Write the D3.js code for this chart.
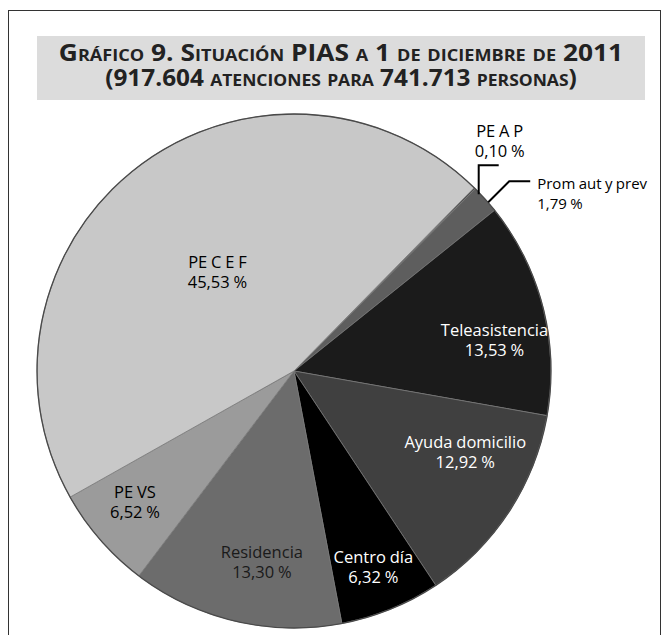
<!DOCTYPE html>
<html>
<head>
<meta charset="utf-8">
<script src="https://cdn.jsdelivr.net/npm/d3@7"></script>
<style>
  body { margin: 0; background: #fff; }
  svg { display: block; font-family: "Open Sans", "Noto Sans", sans-serif; }
  .sliceLabel { font-size: 16.5px; text-anchor: middle; word-spacing: -0.5px; }
  .title { font-weight: bold; font-size: 23px; font-variant: small-caps; text-anchor: middle; fill: #222; }
</style>
</head>
<body>
<div id="chart"></div>
<script>
// chart data
var categories = ["PE A P", "Prom aut y prev", "Teleasistencia", "Ayuda domicilio", "Centro día", "Residencia", "PE VS", "PE C E F"];
var percentages = [0.10, 1.79, 13.53, 12.92, 6.32, 13.30, 6.52, 45.53];
var sliceColors = ["#505050", "#5e5e5e", "#1b1b1b", "#404040", "#000000", "#6c6c6c", "#9b9b9b", "#c8c8c8"];
var labelColors = ["#000", "#000", "#fff", "#fff", "#fff", "#1a1a1a", "#000", "#000"];
// label placement: fraction of the radius and angle shift (degrees) from the slice middle
var labelRadius = [null, null, 0.79, 0.735, 0.82, 0.75, 0.80, 0.49];
var labelShift = [0, 0, 5.3, -8.3, 0, -3.6, 1.8, 0];
var titleLines = ["Gráfico 9. Situación PIAS a 1 de diciembre de 2011", "(917.604 atenciones para 741.713 personas)"];
var titleWidths = [568, 464];

var width = 668, height = 635;

var svg = d3.select("#chart").append("svg")
    .attr("width", width)
    .attr("height", height);

// frame
svg.append("rect")
    .attr("x", 8.5).attr("y", 10.5)
    .attr("width", 652).attr("height", 640)
    .attr("fill", "none")
    .attr("stroke", "#333")
    .attr("stroke-width", 1);

// title box
svg.append("rect")
    .attr("x", 37).attr("y", 36)
    .attr("width", 608).attr("height", 64)
    .attr("fill", "#dcdcdc");

titleLines.forEach(function (line, i) {
    var title = svg.append("text")
        .attr("class", "title")
        .attr("x", 0)
        .attr("y", 0)
        .text(line);
    // stretch each line to the width it has in the original
    var sx = titleWidths[i] / title.node().getComputedTextLength();
    title.attr("transform", "translate(341," + (61 + i * 25) + ") scale(" + sx + ",1)");
});

// pie
var cx = 294, cy = 371, radius = 257;
var startAngle = 44.5 * Math.PI / 180;

var data = categories.map(function (c, i) {
    return { name: c, value: percentages[i], color: sliceColors[i], labelColor: labelColors[i] };
});

var pie = d3.pie()
    .sort(null)
    .value(function (d) { return d.value; })
    .startAngle(startAngle)
    .endAngle(startAngle + 2 * Math.PI);

var arc = d3.arc().innerRadius(0).outerRadius(radius);

var g = svg.append("g").attr("transform", "translate(" + cx + "," + cy + ")");
var arcs = pie(data);

g.selectAll("path.slice")
    .data(arcs)
    .enter()
    .append("path")
    .attr("class", "slice")
    .attr("d", arc)
    .attr("fill", function (d) { return d.data.color; })
    .attr("stroke", "#777")
    .attr("stroke-width", 0.8);

g.append("circle")
    .attr("r", radius)
    .attr("fill", "none")
    .attr("stroke", "#4a4a4a")
    .attr("stroke-width", 1.3);

function fmt(v) {
    return v.toFixed(2).replace(".", ",") + " %";
}

function pointAt(angle, r) {
    return [Math.sin(angle) * r, -Math.cos(angle) * r];
}

arcs.forEach(function (d, i) {
    if (labelRadius[i] == null) return;
    var mid = (d.startAngle + d.endAngle) / 2 + labelShift[i] * Math.PI / 180;
    var p = pointAt(mid, radius * labelRadius[i]);
    var t = g.append("text")
        .attr("class", "sliceLabel")
        .attr("fill", d.data.labelColor);
    t.append("tspan").attr("x", p[0]).attr("y", p[1] - 3).text(d.data.name);
    t.append("tspan").attr("x", p[0]).attr("y", p[1] + 17).text(fmt(d.data.value));
});

// small slices: labels outside with leader lines
var pap = arcs[0], pav = arcs[1];
var p0 = pointAt((pap.startAngle + pap.endAngle) / 2, radius);
g.append("path")
    .attr("d", d3.line()([[p0[0] + 4, p0[1] + 6], [p0[0] + 4, p0[1] - 23], [p0[0] + 24, p0[1] - 23]]))
    .attr("fill", "none")
    .attr("stroke", "#000")
    .attr("stroke-width", 2);
var lab0 = g.append("text").attr("class", "sliceLabel").attr("fill", "#000");
lab0.append("tspan").attr("x", p0[0] + 25).attr("y", p0[1] - 51).text(pap.data.name);
lab0.append("tspan").attr("x", p0[0] + 25).attr("y", p0[1] - 31).text(fmt(pap.data.value));

var p1 = pointAt((pav.startAngle + pav.endAngle) / 2, radius);
g.append("path")
    .attr("d", d3.line()([[p1[0] + 3, p1[1] + 3], [p1[0] + 24, p1[1] - 18], [p1[0] + 45, p1[1] - 18]]))
    .attr("fill", "none")
    .attr("stroke", "#000")
    .attr("stroke-width", 2);
var lab1 = g.append("text").attr("class", "sliceLabel").attr("fill", "#000")
    .style("text-anchor", "start").style("font-size", "15px");
lab1.append("tspan").attr("x", p1[0] + 52).attr("y", p1[1] - 10).text(pav.data.name);
lab1.append("tspan").attr("x", p1[0] + 52).attr("y", p1[1] + 10).text(fmt(pav.data.value));
</script>
</body>
</html>
